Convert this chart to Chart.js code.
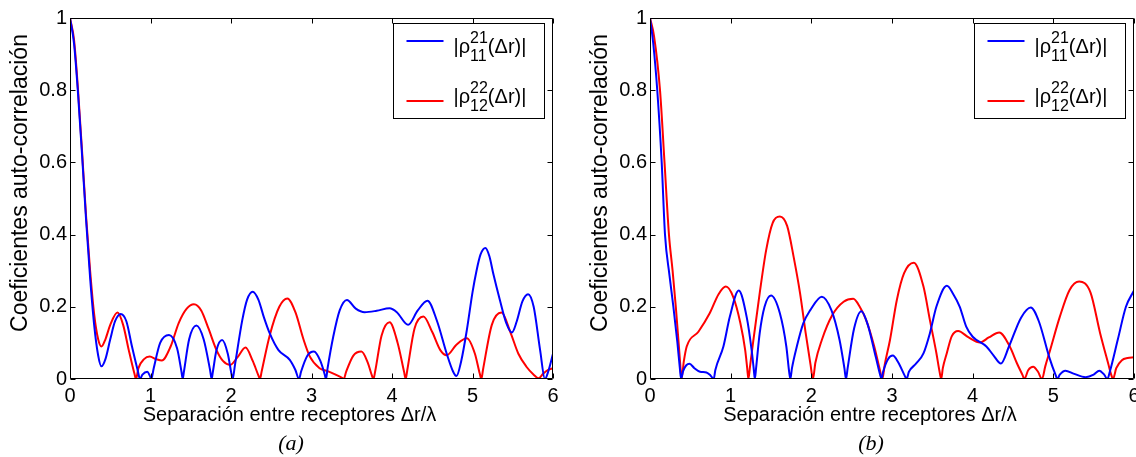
<!DOCTYPE html>
<html>
<head>
<meta charset="utf-8">
<script src="https://cdn.jsdelivr.net/npm/chart.js@4.4.1/dist/chart.umd.min.js"></script>
<style>
  body { margin: 0; background: #fff; width: 1136px; height: 457px; overflow: hidden; position: relative; }
  .panel { position: absolute; top: 0; }
  .cap { position: absolute; top: 430px; font: italic 22px "Liberation Serif", "Times New Roman", serif; transform: translateX(-50%); color: #000; }
</style>
</head>
<body>
<div class="panel" style="left:0"><canvas id="chartA" width="580" height="457"></canvas></div>
<div class="panel" style="left:580px"><canvas id="chartB" width="566" height="457"></canvas></div>
<div class="cap" style="left:291px">(a)</div>
<div class="cap" style="left:871px">(b)</div>
<script>
// tick values
const xTicks = [0, 1, 2, 3, 4, 5, 6];
const yTicks = [0, 0.2, 0.4, 0.6, 0.8, 1];

const xLabel = 'Separación entre receptores Δr/λ';
const yLabel = 'Coeficientes auto-correlación';
const legendSup = ['21', '22'];
const legendSub = ['11', '12'];

// (a) |rho_11^21| and |rho_12^22| as [Δr/λ, value]
const blueA = [[0,1],[0.05,0.93],[0.1,0.79],[0.15,0.62],[0.2,0.44],[0.25,0.28],[0.3,0.15],[0.35,0.065],[0.39,0.035],[0.44,0.055],[0.5,0.11],[0.56,0.16],[0.63,0.18],[0.7,0.16],[0.77,0.09],[0.84,0.025],[0.87,0],[0.9,0.012],[0.96,0.02],[0.99,0.01],[1.01,0],[1.04,0.03],[1.12,0.1],[1.23,0.122],[1.33,0.085],[1.385,0.02],[1.4,0],[1.415,0.02],[1.48,0.11],[1.57,0.148],[1.66,0.11],[1.74,0.025],[1.76,0],[1.775,0.02],[1.82,0.08],[1.89,0.108],[1.96,0.07],[2.005,0.015],[2.02,0],[2.05,0.04],[2.14,0.163],[2.2,0.22],[2.27,0.242],[2.34,0.22],[2.41,0.17],[2.48,0.127],[2.59,0.08],[2.73,0.053],[2.8,0.025],[2.845,0],[2.87,0.02],[2.95,0.065],[3.03,0.076],[3.11,0.05],[3.165,0.012],[3.18,0],[3.2,0.03],[3.27,0.117],[3.35,0.19],[3.44,0.219],[3.55,0.195],[3.66,0.185],[3.81,0.189],[3.97,0.196],[4.06,0.185],[4.2,0.15],[4.32,0.19],[4.44,0.217],[4.56,0.16],[4.68,0.07],[4.76,0.02],[4.8,0.008],[4.86,0.05],[4.93,0.136],[5,0.24],[5.05,0.3],[5.1,0.345],[5.16,0.363],[5.21,0.34],[5.26,0.29],[5.34,0.219],[5.42,0.155],[5.49,0.129],[5.55,0.16],[5.62,0.215],[5.69,0.235],[5.76,0.2],[5.84,0.08],[5.9,0],[5.94,0.02],[6,0.07]];
const redA = [[0,1],[0.05,0.94],[0.1,0.8],[0.15,0.63],[0.2,0.45],[0.25,0.3],[0.3,0.18],[0.35,0.11],[0.39,0.09],[0.44,0.11],[0.5,0.15],[0.59,0.184],[0.66,0.15],[0.73,0.08],[0.8,0.015],[0.82,0],[0.85,0.03],[0.92,0.055],[0.99,0.062],[1.07,0.055],[1.14,0.051],[1.25,0.09],[1.35,0.155],[1.45,0.195],[1.54,0.207],[1.63,0.19],[1.72,0.14],[1.82,0.08],[1.9,0.05],[1.99,0.039],[2.08,0.06],[2.18,0.087],[2.27,0.05],[2.34,0.01],[2.36,0],[2.38,0.02],[2.48,0.12],[2.6,0.2],[2.7,0.223],[2.8,0.185],[2.9,0.11],[2.98,0.062],[3.1,0.03],[3.2,0.022],[3.3,0.012],[3.38,0.003],[3.4,0],[3.43,0.02],[3.52,0.065],[3.62,0.076],[3.7,0.045],[3.75,0.01],[3.77,0],[3.79,0.02],[3.87,0.12],[3.97,0.157],[4.07,0.1],[4.15,0.02],[4.17,0],[4.19,0.025],[4.28,0.14],[4.39,0.173],[4.5,0.13],[4.6,0.08],[4.68,0.066],[4.8,0.095],[4.93,0.113],[5.03,0.07],[5.09,0.015],[5.11,0],[5.13,0.025],[5.24,0.15],[5.36,0.184],[5.47,0.13],[5.57,0.07],[5.67,0.034],[5.76,0.012],[5.82,0.002],[5.88,0.015],[5.94,0.025],[6,0.03]];

// (b)
const blueB = [[0,1],[0.04,0.93],[0.09,0.8],[0.145,0.6],[0.186,0.4],[0.24,0.29],[0.29,0.2],[0.34,0.1],[0.37,0.03],[0.385,0],[0.41,0.022],[0.45,0.038],[0.49,0.042],[0.55,0.03],[0.62,0.02],[0.7,0.018],[0.75,0.01],[0.79,0],[0.81,0.025],[0.91,0.09],[0.99,0.173],[1.1,0.245],[1.2,0.17],[1.26,0.08],[1.285,0.03],[1.3,0],[1.315,0.03],[1.36,0.127],[1.42,0.2],[1.5,0.231],[1.61,0.182],[1.69,0.09],[1.725,0.02],[1.74,0],[1.76,0.03],[1.82,0.09],[1.9,0.154],[1.985,0.19],[2.13,0.228],[2.25,0.19],[2.35,0.108],[2.41,0.03],[2.43,0],[2.45,0.03],[2.53,0.14],[2.62,0.188],[2.7,0.15],[2.8,0.06],[2.855,0.01],[2.87,0],[2.89,0.02],[2.95,0.055],[3.01,0.065],[3.08,0.045],[3.16,0.008],[3.18,0],[3.21,0.02],[3.3,0.043],[3.39,0.071],[3.47,0.127],[3.55,0.2],[3.68,0.258],[3.76,0.235],[3.84,0.2],[3.92,0.145],[4,0.117],[4.17,0.09],[4.26,0.065],[4.35,0.043],[4.45,0.09],[4.6,0.17],[4.72,0.198],[4.82,0.16],[4.95,0.06],[5.03,0.01],[5.05,0],[5.08,0.012],[5.15,0.023],[5.25,0.015],[5.4,0.005],[5.5,0.012],[5.57,0.023],[5.63,0.012],[5.67,0],[5.7,0.02],[5.8,0.11],[5.9,0.2],[6,0.245]];
const redB = [[0,1],[0.05,0.95],[0.124,0.8],[0.18,0.6],[0.235,0.4],[0.28,0.3],[0.32,0.2],[0.36,0.085],[0.38,0.025],[0.39,0],[0.42,0.05],[0.455,0.09],[0.6,0.131],[0.74,0.182],[0.85,0.235],[0.94,0.256],[1.03,0.228],[1.12,0.155],[1.18,0.08],[1.205,0.03],[1.22,0],[1.24,0.035],[1.28,0.105],[1.36,0.238],[1.44,0.357],[1.52,0.432],[1.61,0.45],[1.7,0.424],[1.78,0.339],[1.86,0.238],[1.93,0.127],[1.99,0.04],[2.02,0],[2.05,0.045],[2.13,0.108],[2.26,0.177],[2.4,0.214],[2.52,0.222],[2.6,0.2],[2.68,0.163],[2.78,0.09],[2.85,0.025],[2.88,0],[2.91,0.04],[2.975,0.108],[3.06,0.219],[3.15,0.293],[3.27,0.322],[3.39,0.256],[3.47,0.163],[3.55,0.072],[3.59,0.02],[3.61,0],[3.63,0.03],[3.68,0.072],[3.74,0.118],[3.82,0.133],[3.95,0.115],[4.09,0.101],[4.2,0.115],[4.33,0.129],[4.46,0.09],[4.55,0.043],[4.62,0.01],[4.64,0],[4.69,0.025],[4.75,0.034],[4.81,0.02],[4.86,0],[4.9,0.035],[4.96,0.08],[5.08,0.172],[5.2,0.246],[5.32,0.27],[5.46,0.24],[5.58,0.127],[5.68,0.043],[5.72,0.01],[5.74,0],[5.78,0.03],[5.85,0.052],[5.92,0.058],[6,0.06]];

const FONT = '"Liberation Sans", Arial, Helvetica, sans-serif';
Chart.defaults.font.family = FONT;
Chart.defaults.color = '#000';

// box round the axes, inward ticks on all four sides, axis labels and the legend with sup/sub text
const matlabBox = {
    id: 'matlabBox',
    afterDatasetsDraw(chart) {
        const { ctx, chartArea: a, scales: { x, y } } = chart;
        const L = Math.round(a.left) + 0.5, R = Math.round(a.right) - 0.5;
        const T = Math.round(a.top) + 0.5, B = Math.round(a.bottom) - 0.5;
        ctx.save();
        ctx.strokeStyle = '#000';
        ctx.lineWidth = 1;
        ctx.beginPath();
        ctx.rect(L, T, R - L, B - T);
        xTicks.forEach(v => {
            const px = Math.round(x.getPixelForValue(v)) + 0.5;
            ctx.moveTo(px, B); ctx.lineTo(px, B - 5);
            ctx.moveTo(px, T); ctx.lineTo(px, T + 5);
        });
        yTicks.forEach(v => {
            const py = Math.round(y.getPixelForValue(v)) + 0.5;
            ctx.moveTo(L, py); ctx.lineTo(L + 5, py);
            ctx.moveTo(R, py); ctx.lineTo(R - 5, py);
        });
        ctx.stroke();

        // axis labels
        ctx.fillStyle = '#000';
        ctx.textAlign = 'center';
        ctx.textBaseline = 'middle';
        ctx.font = '20px ' + FONT;
        ctx.fillText(xLabel, (a.left + a.right) / 2 - 22, a.bottom + 36);
        ctx.save();
        ctx.translate(a.left - 49, a.top + 165);
        ctx.rotate(-Math.PI / 2);
        ctx.font = '23px ' + FONT;
        ctx.fillText(yLabel, 0, 0);
        ctx.restore();

        // legend
        const bx = Math.round(a.right - 160) + 0.5, by = Math.round(a.top + 5) + 0.5;
        ctx.fillStyle = '#fff';
        ctx.fillRect(bx, by, 151, 95);
        ctx.strokeRect(bx, by, 151, 95);
        const lineY = [17.5, 77.5];
        const baseY = [29.5, 79.5];
        chart.data.datasets.forEach((ds, i) => {
            ctx.strokeStyle = ds.borderColor;
            ctx.lineWidth = 2;
            ctx.beginPath();
            ctx.moveTo(bx + 13, by + lineY[i]);
            ctx.lineTo(bx + 50, by + lineY[i]);
            ctx.stroke();

            let tx = bx + 60;
            const base = by + baseY[i];
            ctx.fillStyle = '#000';
            ctx.textBaseline = 'alphabetic';
            ctx.textAlign = 'left';
            ctx.font = '20px ' + FONT;
            ctx.fillText('|ρ', tx, base);
            tx += ctx.measureText('|ρ').width;
            ctx.font = '16px ' + FONT;
            ctx.fillText(legendSup[i], tx, base - 10);
            ctx.fillText(legendSub[i], tx, base + 7.5);
            tx += Math.max(ctx.measureText(legendSup[i]).width, ctx.measureText(legendSub[i]).width);
            ctx.font = '20px ' + FONT;
            ctx.fillText('(Δr)|', tx, base);
        });
        ctx.restore();
    }
};

function makeChart(canvasId, blue, red, rightPad) {
    const tickFont = { size: 20, family: FONT };
    return new Chart(document.getElementById(canvasId), {
        type: 'line',
        data: {
            datasets: [
                { data: blue.map(p => ({ x: p[0], y: p[1] })), borderColor: '#0000ff', borderWidth: 2, pointRadius: 0, cubicInterpolationMode: 'monotone', fill: false },
                { data: red.map(p => ({ x: p[0], y: p[1] })), borderColor: '#ff0000', borderWidth: 2, pointRadius: 0, cubicInterpolationMode: 'monotone', fill: false }
            ]
        },
        options: {
            responsive: false,
            animation: false,
            devicePixelRatio: 1,
            layout: { padding: { left: 0, top: 18, right: rightPad, bottom: 30 } },
            plugins: { legend: { display: false }, tooltip: { enabled: false } },
            scales: {
                x: {
                    type: 'linear', min: 0, max: 6,
                    afterBuildTicks: s => { s.ticks = xTicks.map(v => ({ value: v })); },
                    afterFit: s => { s.height = 48; },
                    grid: { display: false, drawTicks: false },
                    border: { display: false },
                    ticks: { padding: 5, color: '#000', font: tickFont, maxRotation: 0, autoSkip: false, callback: v => String(v) }
                },
                y: {
                    type: 'linear', min: 0, max: 1,
                    afterBuildTicks: s => { s.ticks = yTicks.map(v => ({ value: v })); },
                    afterFit: s => { s.width = 70; },
                    grid: { display: false, drawTicks: false },
                    border: { display: false },
                    ticks: { padding: 3, color: '#000', font: tickFont, autoSkip: false, callback: v => String(v) }
                }
            }
        },
        plugins: [matlabBox]
    });
}

makeChart('chartA', blueA, redA, 27);
makeChart('chartB', blueB, redB, 12);
</script>
</body>
</html>
